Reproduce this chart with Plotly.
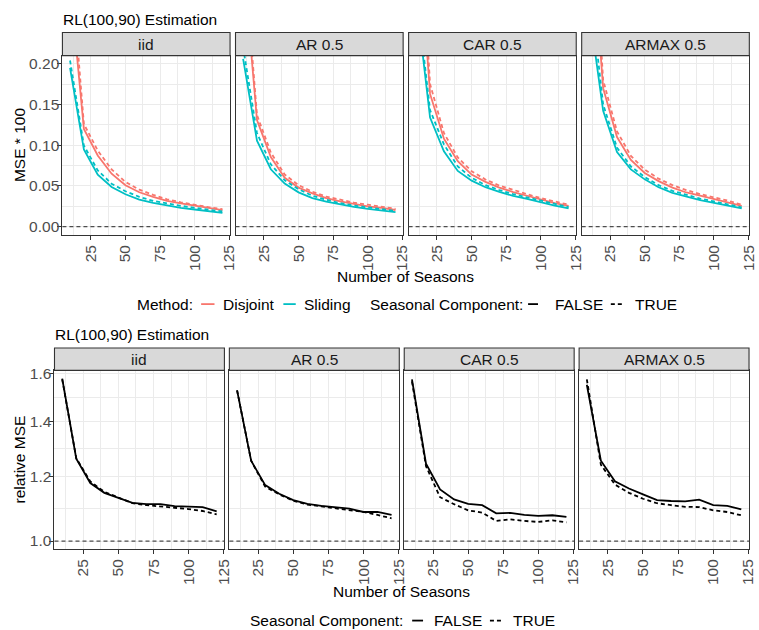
import math
import plotly.graph_objects as go

# ---------------------------------------------------------------------------
# Data: RL(100,90) estimation, number of seasons on the x axis
# ---------------------------------------------------------------------------
SEASONS = [10, 20, 30, 40, 50, 60, 70, 80, 90, 100, 110, 120]
PROCESSES = ["iid", "AR 0.5", "CAR 0.5", "ARMAX 0.5"]

# MSE * 100, per process, method (Disjoint / Sliding) and seasonal component (FALSE / TRUE)
IID_DISJOINT_FALSE = [0.300, 0.120, 0.0874, 0.065, 0.0508, 0.0423, 0.0366, 0.0317, 0.0285, 0.0256, 0.0232, 0.0203]
IID_DISJOINT_TRUE = [0.336, 0.126, 0.0935, 0.0703, 0.0549, 0.0455, 0.039, 0.0337, 0.030, 0.0268, 0.024, 0.0215]
IID_SLIDING_FALSE = [0.195, 0.0947, 0.0638, 0.0488, 0.0398, 0.0333, 0.0293, 0.026, 0.0232, 0.0211, 0.0191, 0.0171]
IID_SLIDING_TRUE = [0.204, 0.0996, 0.0691, 0.0528, 0.0435, 0.0366, 0.0317, 0.0285, 0.0256, 0.0232, 0.0211, 0.0187]

AR_DISJOINT_FALSE = [0.330, 0.131, 0.0854, 0.060, 0.048, 0.041, 0.035, 0.031, 0.028, 0.025, 0.023, 0.0205]
AR_DISJOINT_TRUE = [0.350, 0.137, 0.091, 0.064, 0.051, 0.043, 0.037, 0.033, 0.0295, 0.027, 0.0245, 0.022]
AR_SLIDING_FALSE = [0.206, 0.1056, 0.0705, 0.053, 0.0422, 0.0352, 0.0309, 0.0272, 0.0244, 0.022, 0.0203, 0.0179]
AR_SLIDING_TRUE = [0.220, 0.115, 0.0765, 0.057, 0.046, 0.038, 0.033, 0.029, 0.026, 0.0235, 0.0215, 0.0195]

CAR_DISJOINT_FALSE = [0.400, 0.163, 0.108, 0.0805, 0.064, 0.055, 0.048, 0.0425, 0.038, 0.0335, 0.029, 0.0255]
CAR_DISJOINT_TRUE = [0.450, 0.175, 0.115, 0.085, 0.068, 0.058, 0.0505, 0.045, 0.040, 0.035, 0.031, 0.027]
CAR_SLIDING_FALSE = [0.280, 0.134, 0.0925, 0.0685, 0.0565, 0.0485, 0.0427, 0.0378, 0.0341, 0.0297, 0.026, 0.0224]
CAR_SLIDING_TRUE = [0.290, 0.143, 0.101, 0.074, 0.060, 0.051, 0.045, 0.040, 0.036, 0.032, 0.028, 0.024]

ARMAX_DISJOINT_FALSE = [0.400, 0.170, 0.110, 0.082, 0.066, 0.056, 0.048, 0.042, 0.038, 0.034, 0.030, 0.0255]
ARMAX_DISJOINT_TRUE = [0.450, 0.180, 0.117, 0.087, 0.070, 0.059, 0.051, 0.045, 0.040, 0.036, 0.032, 0.027]
ARMAX_SLIDING_FALSE = [0.266, 0.1423, 0.0915, 0.0703, 0.0581, 0.0484, 0.0415, 0.0366, 0.0325, 0.0293, 0.026, 0.0224]
ARMAX_SLIDING_TRUE = [0.300, 0.150, 0.097, 0.074, 0.061, 0.051, 0.044, 0.039, 0.0345, 0.031, 0.0275, 0.0238]

# Relative MSE (Disjoint vs Sliding), per process and seasonal component
IID_RELATIVE_FALSE = [1.578, 1.260, 1.177, 1.145, 1.129, 1.113, 1.109, 1.109, 1.103, 1.102, 1.100, 1.087]
IID_RELATIVE_TRUE = [1.575, 1.262, 1.182, 1.148, 1.130, 1.112, 1.106, 1.103, 1.098, 1.094, 1.088, 1.078]
AR_RELATIVE_FALSE = [1.527, 1.253, 1.170, 1.142, 1.122, 1.110, 1.104, 1.100, 1.095, 1.085, 1.085, 1.076]
AR_RELATIVE_TRUE = [1.527, 1.253, 1.165, 1.140, 1.120, 1.108, 1.102, 1.097, 1.091, 1.085, 1.076, 1.066]
CAR_RELATIVE_FALSE = [1.575, 1.243, 1.156, 1.124, 1.110, 1.106, 1.081, 1.082, 1.076, 1.073, 1.075, 1.070]
CAR_RELATIVE_TRUE = [1.566, 1.234, 1.131, 1.109, 1.090, 1.083, 1.058, 1.063, 1.058, 1.055, 1.060, 1.054]
ARMAX_RELATIVE_FALSE = [1.551, 1.253, 1.183, 1.159, 1.140, 1.122, 1.119, 1.118, 1.123, 1.106, 1.104, 1.093]
ARMAX_RELATIVE_TRUE = [1.575, 1.239, 1.172, 1.145, 1.126, 1.112, 1.106, 1.101, 1.100, 1.090, 1.085, 1.075]

MSE_TICKS = [0.00, 0.05, 0.10, 0.15, 0.20]
RELATIVE_TICKS = [1.0, 1.2, 1.4, 1.6]
SEASON_TICKS = [25, 50, 75, 100, 125]
MSE_REFERENCE = 0.0
RELATIVE_REFERENCE = 1.0

MSE_SERIES = {
    "iid": (IID_DISJOINT_FALSE, IID_DISJOINT_TRUE, IID_SLIDING_FALSE, IID_SLIDING_TRUE),
    "AR 0.5": (AR_DISJOINT_FALSE, AR_DISJOINT_TRUE, AR_SLIDING_FALSE, AR_SLIDING_TRUE),
    "CAR 0.5": (CAR_DISJOINT_FALSE, CAR_DISJOINT_TRUE, CAR_SLIDING_FALSE, CAR_SLIDING_TRUE),
    "ARMAX 0.5": (ARMAX_DISJOINT_FALSE, ARMAX_DISJOINT_TRUE, ARMAX_SLIDING_FALSE, ARMAX_SLIDING_TRUE),
}
RELATIVE_SERIES = {
    "iid": (IID_RELATIVE_FALSE, IID_RELATIVE_TRUE),
    "AR 0.5": (AR_RELATIVE_FALSE, AR_RELATIVE_TRUE),
    "CAR 0.5": (CAR_RELATIVE_FALSE, CAR_RELATIVE_TRUE),
    "ARMAX 0.5": (ARMAX_RELATIVE_FALSE, ARMAX_RELATIVE_TRUE),
}

# ---------------------------------------------------------------------------
# Styling / layout (pixel based, converted to paper coordinates)
# ---------------------------------------------------------------------------
W, H = 759, 630
FONT = "Liberation Sans, Arial, Helvetica, sans-serif"
FS = 15.5
RED, TEAL = "#F8766D", "#00BFC4"
GRID = "#EBEBEB"
BORDER = "#333333"
STRIP_FILL = "#D9D9D9"
DASH = "4px,3px"
LINE_W = 1.8


def px_x(p):
    return p / W


def px_y(p):
    return 1 - p / H


def axis_ids(n):
    suffix = "" if n == 1 else str(n)
    return f"x{suffix}", f"y{suffix}", f"xaxis{suffix}", f"yaxis{suffix}"


X_RANGE = [4.5, 125.5]
MINOR_SEASONS = [12.5, 37.5, 62.5, 87.5, 112.5]

# top row: panels, strips
TOP_LEFT, TOP_W, TOP_GAP = 63.0, 169.2, 5.5
TOP_Y0, TOP_Y1 = 51.0, 231.7
TOP_STRIP = 27.7
# bottom row
BOT_LEFT, BOT_W, BOT_GAP = 55.0, 171.5, 5.0
BOT_Y0, BOT_Y1 = 368.3, 548.3
BOT_STRIP = 345.7

fig = go.Figure()
layout = {}
shapes = []
annotations = []

tick_font = dict(family=FONT, size=15.5, color="#4D4D4D")


def x_axis_cfg(domain_px, anchor):
    return dict(
        domain=[px_x(domain_px[0]), px_x(domain_px[1])],
        anchor=anchor,
        range=X_RANGE,
        tickmode="array",
        tickvals=SEASON_TICKS,
        ticktext=[str(t) for t in SEASON_TICKS],
        tickangle=-90,
        ticks="outside",
        ticklen=4,
        tickwidth=1,
        tickcolor=BORDER,
        tickfont=tick_font,
        ticklabelstandoff=-1,
        showgrid=True,
        gridcolor=GRID,
        gridwidth=1.1,
        minor=dict(tickmode="array", tickvals=MINOR_SEASONS, showgrid=True,
                   gridcolor=GRID, gridwidth=0.6, ticks=""),
        showline=True,
        linecolor=BORDER,
        linewidth=1.1,
        mirror=True,
        zeroline=False,
        fixedrange=True,
    )


def y_axis_cfg(domain_px, anchor, first, **extra):
    cfg = dict(
        domain=[px_y(domain_px[1]), px_y(domain_px[0])],
        anchor=anchor,
        tickmode="array",
        ticks="outside" if first else "",
        ticklen=4,
        tickwidth=1,
        tickcolor=BORDER,
        showticklabels=first,
        tickfont=tick_font,
        ticklabelstandoff=-5,
        showgrid=True,
        gridcolor=GRID,
        gridwidth=1.1,
        showline=True,
        linecolor=BORDER,
        linewidth=1.1,
        mirror=True,
        zeroline=False,
        fixedrange=True,
    )
    cfg.update(extra)
    return cfg


def strip(x0, x1, y0, y1, label):
    shapes.append(dict(type="rect", xref="paper", yref="paper",
                       x0=px_x(x0), x1=px_x(x1), y0=px_y(y1), y1=px_y(y0),
                       fillcolor=STRIP_FILL, line=dict(color=BORDER, width=1.1),
                       layer="above"))
    annotations.append(dict(text=label, xref="paper", yref="paper",
                            x=px_x((x0 + x1) / 2), y=px_y((y0 + y1) / 2),
                            xanchor="center", yanchor="middle", showarrow=False,
                            font=dict(family=FONT, size=FS, color="#1A1A1A")))


# --- top row: MSE * 100 ------------------------------------------------------
for i, proc in enumerate(PROCESSES):
    xa, ya, xkey, ykey = axis_ids(i + 1)
    x0 = TOP_LEFT + i * (TOP_W + TOP_GAP)
    x1 = x0 + TOP_W
    layout[xkey] = x_axis_cfg((x0, x1), ya)
    layout[ykey] = y_axis_cfg(
        (TOP_Y0, TOP_Y1), xa, i == 0,
        range=[-0.01, 0.21],
        tickvals=MSE_TICKS,
        ticktext=[f"{t:.2f}" for t in MSE_TICKS],
        minor=dict(tickmode="array", tickvals=[0.025, 0.075, 0.125, 0.175],
                   showgrid=True, gridcolor=GRID, gridwidth=0.6, ticks=""),
    )
    d_false, d_true, s_false, s_true = MSE_SERIES[proc]
    for vals, color, dash, method, seas in [
        (d_false, RED, "solid", "Disjoint", "FALSE"),
        (d_true, RED, DASH, "Disjoint", "TRUE"),
        (s_false, TEAL, "solid", "Sliding", "FALSE"),
        (s_true, TEAL, DASH, "Sliding", "TRUE"),
    ]:
        fig.add_trace(go.Scatter(
            x=SEASONS, y=vals, mode="lines", xaxis=xa, yaxis=ya,
            line=dict(color=color, width=LINE_W, dash=dash),
            name=f"{method}, seasonal {seas}", showlegend=False,
            hovertemplate=f"{proc}<br>{method}, seasonal {seas}<br>seasons=%{{x}}<br>MSE*100=%{{y:.4f}}<extra></extra>",
        ))
    shapes.append(dict(type="line", xref=f"{xa} domain", yref=ya, x0=0, x1=1,
                       y0=MSE_REFERENCE, y1=MSE_REFERENCE,
                       line=dict(color="#4D4D4D", width=1.2, dash=DASH)))
    strip(x0, x1, TOP_STRIP, TOP_Y0, proc)

# --- bottom row: relative MSE (log scale) -----------------------------------
for i, proc in enumerate(PROCESSES):
    xa, ya, xkey, ykey = axis_ids(i + 5)
    x0 = BOT_LEFT + i * (BOT_W + BOT_GAP)
    x1 = x0 + BOT_W
    layout[xkey] = x_axis_cfg((x0, x1), ya)
    layout[ykey] = y_axis_cfg(
        (BOT_Y0, BOT_Y1), xa, i == 0,
        type="log",
        range=[math.log10(0.978), math.log10(1.615)],
        tickvals=RELATIVE_TICKS,
        ticktext=[f"{t:.1f}" for t in RELATIVE_TICKS],
        minor=dict(tickmode="array",
                   tickvals=[math.sqrt(a * b) for a, b in zip(RELATIVE_TICKS[:-1], RELATIVE_TICKS[1:])],
                   showgrid=True, gridcolor=GRID, gridwidth=0.6, ticks=""),
    )
    r_false, r_true = RELATIVE_SERIES[proc]
    for vals, dash, seas in [(r_false, "solid", "FALSE"), (r_true, DASH, "TRUE")]:
        fig.add_trace(go.Scatter(
            x=SEASONS, y=vals, mode="lines", xaxis=xa, yaxis=ya,
            line=dict(color="black", width=LINE_W, dash=dash),
            name=f"seasonal {seas}", showlegend=False,
            hovertemplate=f"{proc}<br>seasonal {seas}<br>seasons=%{{x}}<br>relative MSE=%{{y:.3f}}<extra></extra>",
        ))
    shapes.append(dict(type="line", xref=f"{xa} domain", yref=ya, x0=0, x1=1,
                       y0=RELATIVE_REFERENCE, y1=RELATIVE_REFERENCE,
                       line=dict(color="#4D4D4D", width=1.2, dash=DASH)))
    strip(x0, x1, BOT_STRIP, BOT_Y0, proc)


# --- titles, axis titles, legends -------------------------------------------
def text(label, x, y, anchor="left", size=FS, color="black", angle=0):
    annotations.append(dict(text=label, xref="paper", yref="paper",
                            x=px_x(x), y=px_y(y), xanchor=anchor, yanchor="middle",
                            showarrow=False, textangle=angle,
                            font=dict(family=FONT, size=size, color=color)))


text("RL(100,90) Estimation", 61.5, 15.0)
text("RL(100,90) Estimation", 53.5, 332.5)
text("MSE * 100", 19.0, (TOP_Y0 + TOP_Y1) / 2, anchor="center", angle=-90)
text("relative MSE", 20.0, (BOT_Y0 + BOT_Y1) / 2, anchor="center", angle=-90)
text("Number of Seasons", (TOP_LEFT + TOP_LEFT + 4 * TOP_W + 3 * TOP_GAP) / 2, 273.5, anchor="center")
text("Number of Seasons", (BOT_LEFT + BOT_LEFT + 4 * BOT_W + 3 * BOT_GAP) / 2, 591.0, anchor="center")


def key(x0, x1, y, color, dash):
    shapes.append(dict(type="line", xref="paper", yref="paper",
                       x0=px_x(x0), x1=px_x(x1), y0=px_y(y), y1=px_y(y),
                       line=dict(color=color, width=LINE_W, dash=dash)))


LEG1 = 301.5
text("Method:", 136.0, LEG1)
key(203.0, 216.5, LEG1, RED, "solid")
text("Disjoint", 223.5, LEG1)
key(286.0, 298.5, LEG1, TEAL, "solid")
text("Sliding", 305.0, LEG1)
text("Seasonal Component:", 371.5, LEG1)
key(533.0, 543.0, LEG1, "black", "solid")
text("FALSE", 558.5, LEG1)
key(616.5, 628.0, LEG1, "black", DASH)
text("TRUE", 638.5, LEG1)

LEG2 = 620.5
text("Seasonal Component:", 250.5, LEG2)
key(416.0, 427.0, LEG2, "black", "solid")
text("FALSE", 436.5, LEG2)
key(494.5, 506.5, LEG2, "black", DASH)
text("TRUE", 515.5, LEG2)

fig.update_layout(
    width=W,
    height=H,
    margin=dict(l=0, r=0, t=0, b=0),
    paper_bgcolor="white",
    plot_bgcolor="white",
    showlegend=False,
    font=dict(family=FONT, size=FS, color="black"),
    shapes=shapes,
    annotations=annotations,
    **layout,
)

fig.write_html("out.html")
